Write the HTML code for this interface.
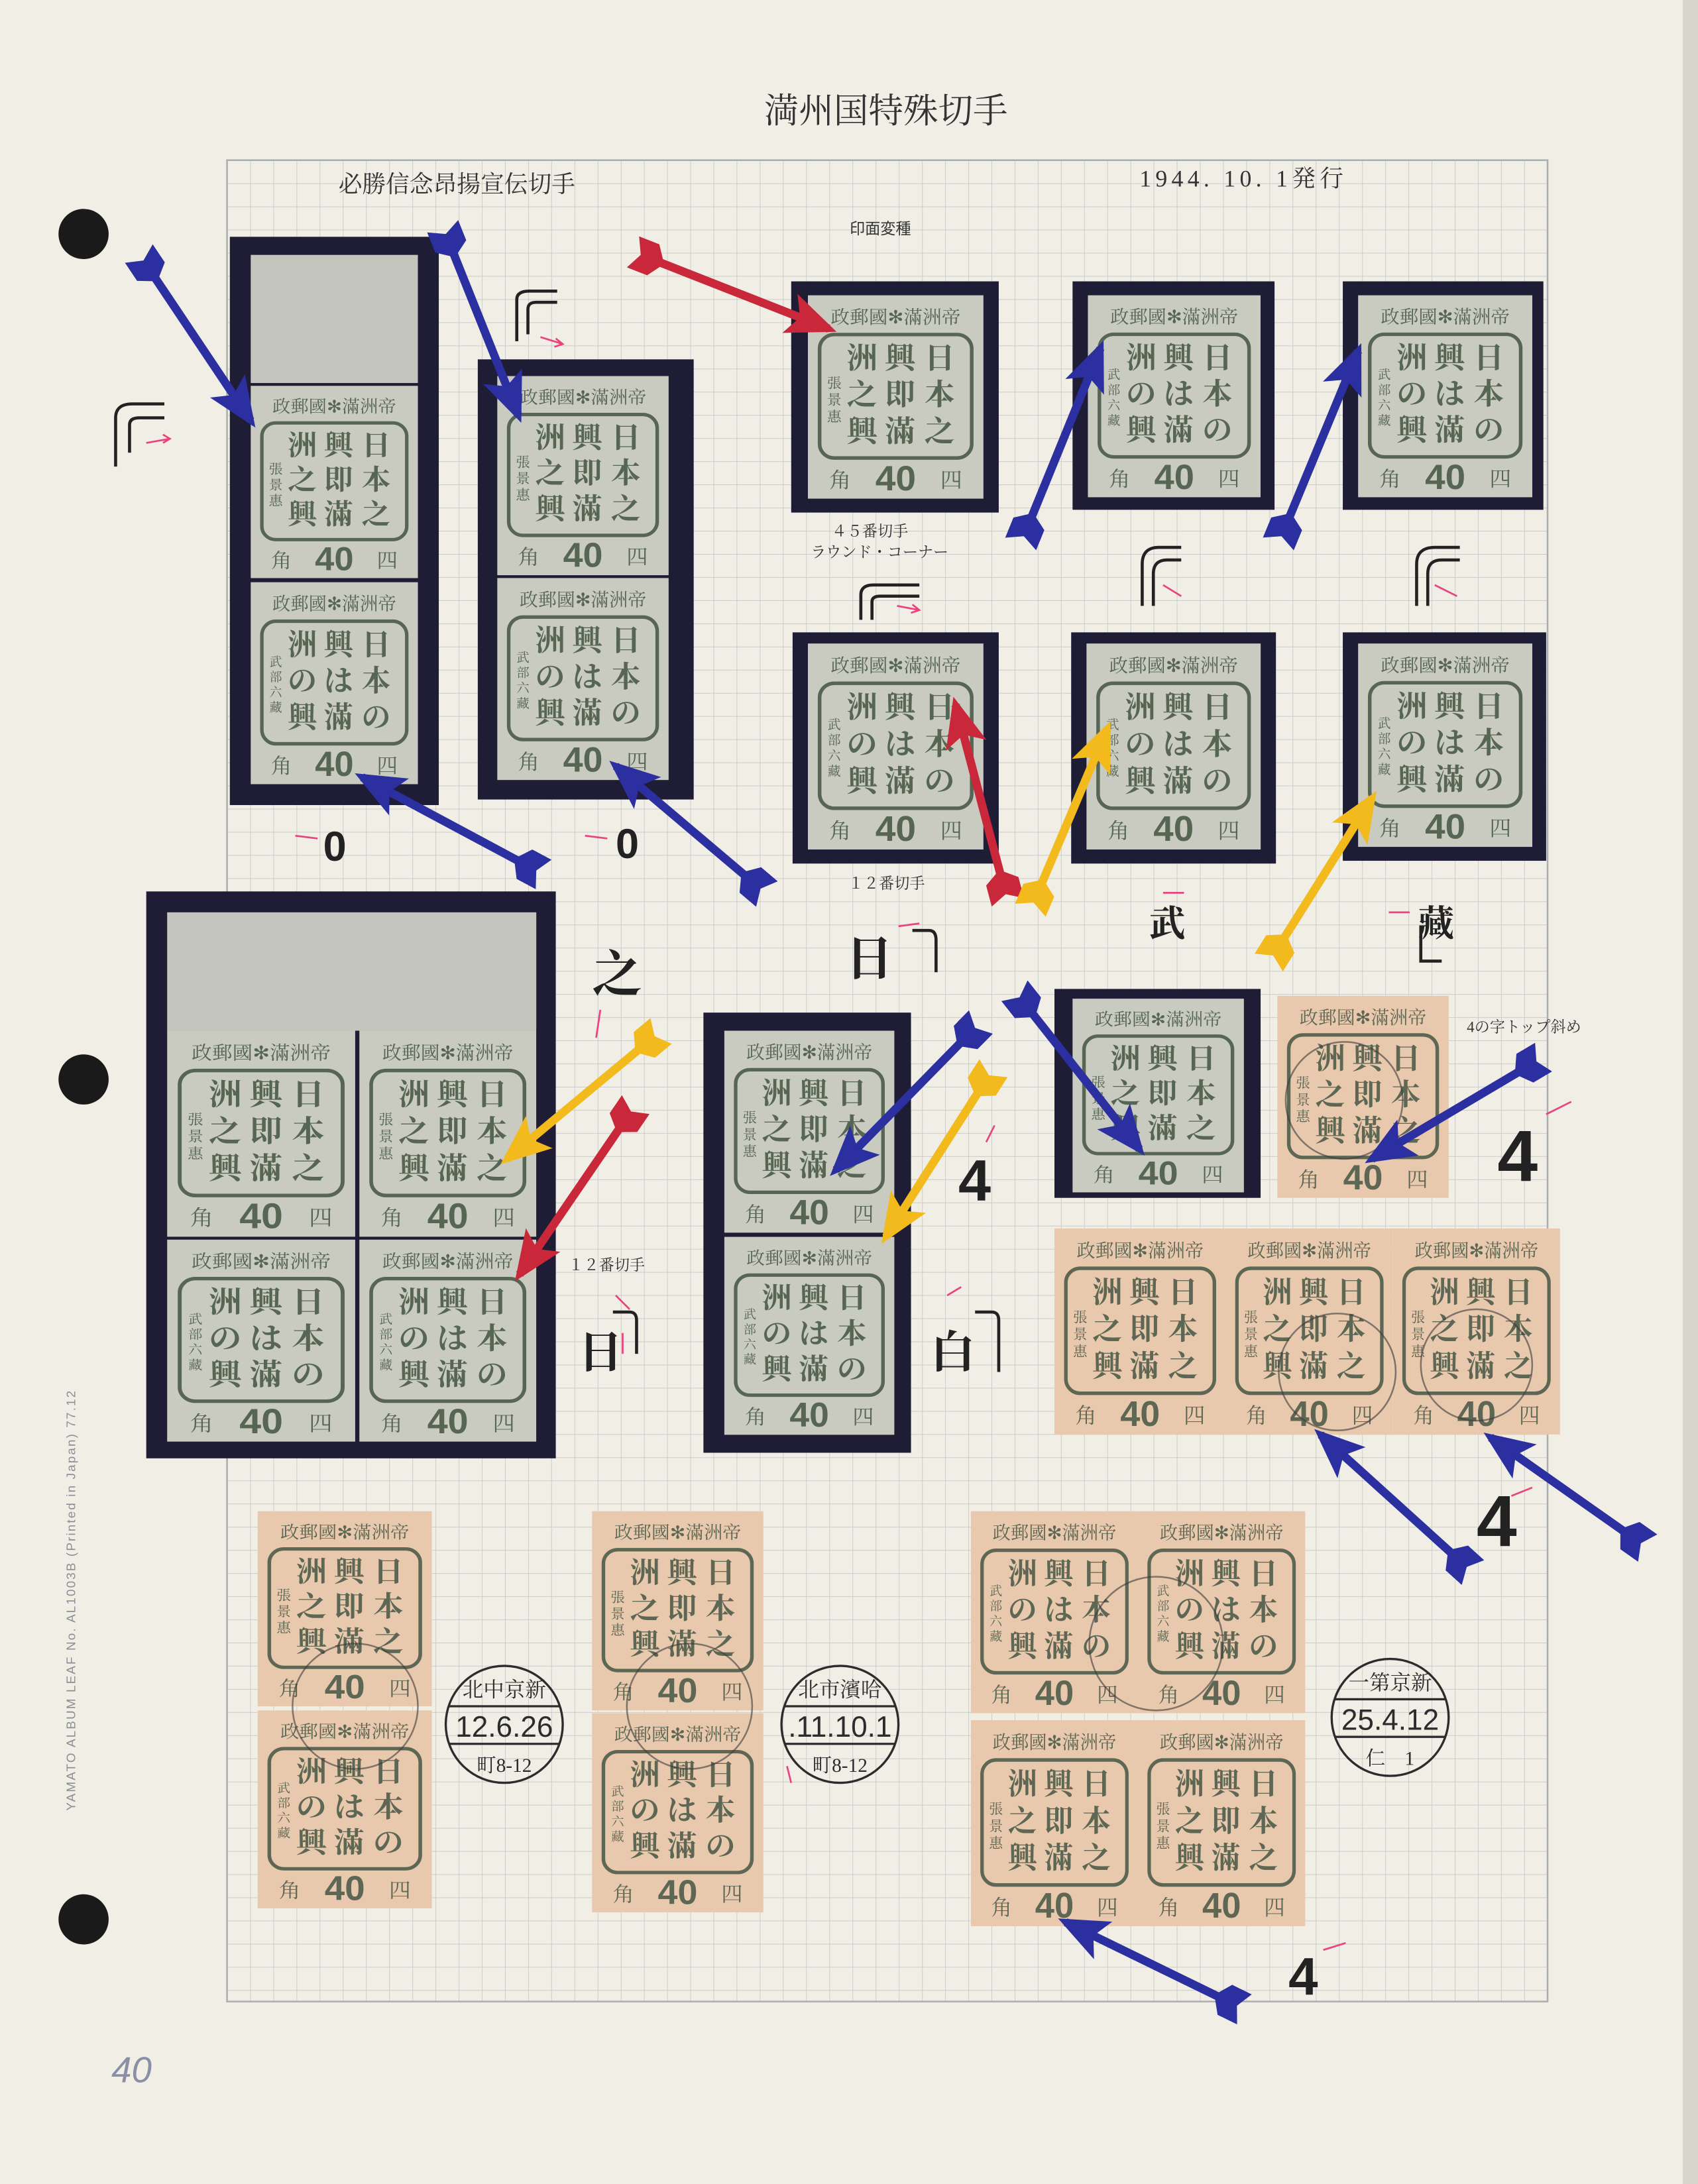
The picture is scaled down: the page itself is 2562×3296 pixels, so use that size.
<!DOCTYPE html>
<html><head><meta charset="utf-8"><style>
html,body{margin:0;padding:0;background:#f0eee5}
svg{display:block}
text{font-family:"Liberation Serif","Noto Serif CJK SC","Noto Sans CJK JP",serif}
.s{font-family:"Liberation Sans","Noto Sans CJK JP",sans-serif}
.t{font-size:13px;text-anchor:middle}
.b{font-size:21px;font-weight:bold;text-anchor:middle}
.m{font-size:10px;text-anchor:middle}
.n{font-size:9px;text-anchor:middle}
.v{font-size:15px;text-anchor:middle}
.f{font-size:25px;font-weight:bold;text-anchor:middle;font-family:"Liberation Sans",sans-serif}
.a{fill:none;stroke-width:6}
.pk{stroke:#e8457e;stroke-width:1.3;fill:none}
</style></head><body>
<svg xmlns="http://www.w3.org/2000/svg" width="2562" height="3296" viewBox="0 0 1219 1568" preserveAspectRatio="none">
<defs>
<pattern id="g" x="163" y="115" width="16.63" height="16.63" patternUnits="userSpaceOnUse">
<path d="M0,0 H16.63 M0,0 V16.63" stroke="#c5c8c8" stroke-width="0.8" fill="none"/>
</pattern>
<marker id="hb" viewBox="0 -2.5 6 5" refX="5" refY="0" markerWidth="6" markerHeight="5" orient="auto"><path d="M0,-2.5 L6,0 L0,2.5 L1.3,0Z" fill="#2b2fa0"/></marker>
<marker id="tb" viewBox="0 -2 4 4" refX="1" refY="0" markerWidth="4" markerHeight="4" orient="auto"><path d="M0,-2 L2.6,-2 L4,0 L2.6,2 L0,2 L1,0Z" fill="#2b2fa0"/></marker>
<marker id="hr" viewBox="0 -2.5 6 5" refX="5" refY="0" markerWidth="6" markerHeight="5" orient="auto"><path d="M0,-2.5 L6,0 L0,2.5 L1.3,0Z" fill="#c9283b"/></marker>
<marker id="tr" viewBox="0 -2 4 4" refX="1" refY="0" markerWidth="4" markerHeight="4" orient="auto"><path d="M0,-2 L2.6,-2 L4,0 L2.6,2 L0,2 L1,0Z" fill="#c9283b"/></marker>
<marker id="hy" viewBox="0 -2.5 6 5" refX="5" refY="0" markerWidth="6" markerHeight="5" orient="auto"><path d="M0,-2.5 L6,0 L0,2.5 L1.3,0Z" fill="#f2ba1c"/></marker>
<marker id="ty" viewBox="0 -2 4 4" refX="1" refY="0" markerWidth="4" markerHeight="4" orient="auto"><path d="M0,-2 L2.6,-2 L4,0 L2.6,2 L0,2 L1,0Z" fill="#f2ba1c"/></marker>
</defs>
<rect width="1219" height="1568" fill="#f0eee5"/>
<rect x="1208" y="0" width="11" height="1568" fill="#d8d6cc"/>
<circle cx="60" cy="168" r="18" fill="#1a1a1a"/><circle cx="60" cy="775" r="18" fill="#1a1a1a"/><circle cx="60" cy="1378" r="18" fill="#1a1a1a"/>
<rect x="163" y="115" width="948" height="1322" fill="url(#g)" stroke="#a9aeb0" stroke-width="1.2"/>

<text x="636" y="88" font-size="25" text-anchor="middle" fill="#333">満州国特殊切手</text>
<text x="243" y="138" font-size="17" fill="#333">必勝信念昂揚宣伝切手</text>
<text x="818" y="134" font-size="17" fill="#333" letter-spacing="3">1944. 10. 1発行</text>
<text x="610" y="168" font-size="11" fill="#333" class="s">印面変種</text>
<text x="597" y="385" font-size="11" fill="#333">４５番切手</text>
<text x="582" y="400" font-size="11" fill="#333">ラウンド・コーナー</text>
<text x="609" y="638" font-size="11" fill="#333">１２番切手</text>
<text x="408" y="912" font-size="11" fill="#333">１２番切手</text>
<text x="1053" y="741" font-size="11" fill="#333">4の字トップ斜め</text>
<text transform="translate(54,1300) rotate(-90)" font-size="9" fill="#8a8f94" class="s" letter-spacing="1">YAMATO ALBUM LEAF   No. AL1003B   (Printed in Japan)  77.12</text>
<text x="80" y="1495" font-size="26" fill="#8a8fa8" font-style="italic" class="s">40</text>

<g fill="#1e1d35">
<rect x="165" y="170" width="150" height="408"/>
<rect x="343" y="258" width="155" height="316"/>
<rect x="568" y="202" width="149" height="166"/>
<rect x="770" y="202" width="145" height="164"/>
<rect x="964" y="202" width="144" height="164"/>
<rect x="569" y="454" width="148" height="166"/>
<rect x="769" y="454" width="147" height="166"/>
<rect x="964" y="454" width="146" height="164"/>
<rect x="105" y="640" width="294" height="407"/>
<rect x="505" y="727" width="149" height="316"/>
<rect x="757" y="710" width="148" height="150"/>
</g>
<rect x="180" y="183" width="120" height="92" fill="#c4c6bd"/>
<rect x="120" y="655" width="265" height="85" fill="#c4c6bd"/>

<!-- green A -->
<g transform="translate(180,277) scale(1,0.952)"><rect width="120" height="145" fill="#c9cbc0"/><g fill="#566652"><text x="60" y="20" class="t">政郵國✻滿洲帝</text><rect x="8" y="28" width="104" height="88" rx="10" fill="none" stroke="#566652" stroke-width="2.5"/><text x="90" y="52" class="b">日</text><text x="90" y="78" class="b">本</text><text x="90" y="104" class="b">之</text><text x="63" y="52" class="b">興</text><text x="63" y="78" class="b">即</text><text x="63" y="104" class="b">滿</text><text x="37" y="52" class="b">洲</text><text x="37" y="78" class="b">之</text><text x="37" y="104" class="b">興</text><text x="18" y="66" class="m">張</text><text x="18" y="78" class="m">景</text><text x="18" y="90" class="m">惠</text><text x="22" y="137" class="v">角</text><text x="60" y="139" class="f">40</text><text x="98" y="137" class="v">四</text></g></g>
<g transform="translate(180,418)"><rect width="120" height="145" fill="#c9cbc0"/><g fill="#566652"><text x="60" y="20" class="t">政郵國✻滿洲帝</text><rect x="8" y="28" width="104" height="88" rx="10" fill="none" stroke="#566652" stroke-width="2.5"/><text x="90" y="52" class="b">日</text><text x="90" y="78" class="b">本</text><text x="90" y="104" class="b">の</text><text x="63" y="52" class="b">興</text><text x="63" y="78" class="b">は</text><text x="63" y="104" class="b">滿</text><text x="37" y="52" class="b">洲</text><text x="37" y="78" class="b">の</text><text x="37" y="104" class="b">興</text><text x="18" y="60" class="n">武</text><text x="18" y="71" class="n">部</text><text x="18" y="82" class="n">六</text><text x="18" y="93" class="n">藏</text><text x="22" y="137" class="v">角</text><text x="60" y="139" class="f">40</text><text x="98" y="137" class="v">四</text></g></g>
<g transform="translate(357,270) scale(1.025,0.986)"><rect width="120" height="145" fill="#c9cbc0"/><g fill="#566652"><text x="60" y="20" class="t">政郵國✻滿洲帝</text><rect x="8" y="28" width="104" height="88" rx="10" fill="none" stroke="#566652" stroke-width="2.5"/><text x="90" y="52" class="b">日</text><text x="90" y="78" class="b">本</text><text x="90" y="104" class="b">之</text><text x="63" y="52" class="b">興</text><text x="63" y="78" class="b">即</text><text x="63" y="104" class="b">滿</text><text x="37" y="52" class="b">洲</text><text x="37" y="78" class="b">之</text><text x="37" y="104" class="b">興</text><text x="18" y="66" class="m">張</text><text x="18" y="78" class="m">景</text><text x="18" y="90" class="m">惠</text><text x="22" y="137" class="v">角</text><text x="60" y="139" class="f">40</text><text x="98" y="137" class="v">四</text></g></g>
<g transform="translate(357,415) scale(1.025,1)"><rect width="120" height="145" fill="#c9cbc0"/><g fill="#566652"><text x="60" y="20" class="t">政郵國✻滿洲帝</text><rect x="8" y="28" width="104" height="88" rx="10" fill="none" stroke="#566652" stroke-width="2.5"/><text x="90" y="52" class="b">日</text><text x="90" y="78" class="b">本</text><text x="90" y="104" class="b">の</text><text x="63" y="52" class="b">興</text><text x="63" y="78" class="b">は</text><text x="63" y="104" class="b">滿</text><text x="37" y="52" class="b">洲</text><text x="37" y="78" class="b">の</text><text x="37" y="104" class="b">興</text><text x="18" y="60" class="n">武</text><text x="18" y="71" class="n">部</text><text x="18" y="82" class="n">六</text><text x="18" y="93" class="n">藏</text><text x="22" y="137" class="v">角</text><text x="60" y="139" class="f">40</text><text x="98" y="137" class="v">四</text></g></g>
<g transform="translate(580,212) scale(1.05,1.007)"><rect width="120" height="145" fill="#c9cbc0"/><g fill="#566652"><text x="60" y="20" class="t">政郵國✻滿洲帝</text><rect x="8" y="28" width="104" height="88" rx="10" fill="none" stroke="#566652" stroke-width="2.5"/><text x="90" y="52" class="b">日</text><text x="90" y="78" class="b">本</text><text x="90" y="104" class="b">之</text><text x="63" y="52" class="b">興</text><text x="63" y="78" class="b">即</text><text x="63" y="104" class="b">滿</text><text x="37" y="52" class="b">洲</text><text x="37" y="78" class="b">之</text><text x="37" y="104" class="b">興</text><text x="18" y="66" class="m">張</text><text x="18" y="78" class="m">景</text><text x="18" y="90" class="m">惠</text><text x="22" y="137" class="v">角</text><text x="60" y="139" class="f">40</text><text x="98" y="137" class="v">四</text></g></g>
<g transform="translate(781,212) scale(1.033,1)"><rect width="120" height="145" fill="#c9cbc0"/><g fill="#566652"><text x="60" y="20" class="t">政郵國✻滿洲帝</text><rect x="8" y="28" width="104" height="88" rx="10" fill="none" stroke="#566652" stroke-width="2.5"/><text x="90" y="52" class="b">日</text><text x="90" y="78" class="b">本</text><text x="90" y="104" class="b">の</text><text x="63" y="52" class="b">興</text><text x="63" y="78" class="b">は</text><text x="63" y="104" class="b">滿</text><text x="37" y="52" class="b">洲</text><text x="37" y="78" class="b">の</text><text x="37" y="104" class="b">興</text><text x="18" y="60" class="n">武</text><text x="18" y="71" class="n">部</text><text x="18" y="82" class="n">六</text><text x="18" y="93" class="n">藏</text><text x="22" y="137" class="v">角</text><text x="60" y="139" class="f">40</text><text x="98" y="137" class="v">四</text></g></g>
<g transform="translate(975,212) scale(1.042,1)"><rect width="120" height="145" fill="#c9cbc0"/><g fill="#566652"><text x="60" y="20" class="t">政郵國✻滿洲帝</text><rect x="8" y="28" width="104" height="88" rx="10" fill="none" stroke="#566652" stroke-width="2.5"/><text x="90" y="52" class="b">日</text><text x="90" y="78" class="b">本</text><text x="90" y="104" class="b">の</text><text x="63" y="52" class="b">興</text><text x="63" y="78" class="b">は</text><text x="63" y="104" class="b">滿</text><text x="37" y="52" class="b">洲</text><text x="37" y="78" class="b">の</text><text x="37" y="104" class="b">興</text><text x="18" y="60" class="n">武</text><text x="18" y="71" class="n">部</text><text x="18" y="82" class="n">六</text><text x="18" y="93" class="n">藏</text><text x="22" y="137" class="v">角</text><text x="60" y="139" class="f">40</text><text x="98" y="137" class="v">四</text></g></g>
<g transform="translate(580,462) scale(1.05,1.02)"><rect width="120" height="145" fill="#c9cbc0"/><g fill="#566652"><text x="60" y="20" class="t">政郵國✻滿洲帝</text><rect x="8" y="28" width="104" height="88" rx="10" fill="none" stroke="#566652" stroke-width="2.5"/><text x="90" y="52" class="b">日</text><text x="90" y="78" class="b">本</text><text x="90" y="104" class="b">の</text><text x="63" y="52" class="b">興</text><text x="63" y="78" class="b">は</text><text x="63" y="104" class="b">滿</text><text x="37" y="52" class="b">洲</text><text x="37" y="78" class="b">の</text><text x="37" y="104" class="b">興</text><text x="18" y="60" class="n">武</text><text x="18" y="71" class="n">部</text><text x="18" y="82" class="n">六</text><text x="18" y="93" class="n">藏</text><text x="22" y="137" class="v">角</text><text x="60" y="139" class="f">40</text><text x="98" y="137" class="v">四</text></g></g>
<g transform="translate(780,462) scale(1.042,1.02)"><rect width="120" height="145" fill="#c9cbc0"/><g fill="#566652"><text x="60" y="20" class="t">政郵國✻滿洲帝</text><rect x="8" y="28" width="104" height="88" rx="10" fill="none" stroke="#566652" stroke-width="2.5"/><text x="90" y="52" class="b">日</text><text x="90" y="78" class="b">本</text><text x="90" y="104" class="b">の</text><text x="63" y="52" class="b">興</text><text x="63" y="78" class="b">は</text><text x="63" y="104" class="b">滿</text><text x="37" y="52" class="b">洲</text><text x="37" y="78" class="b">の</text><text x="37" y="104" class="b">興</text><text x="18" y="60" class="n">武</text><text x="18" y="71" class="n">部</text><text x="18" y="82" class="n">六</text><text x="18" y="93" class="n">藏</text><text x="22" y="137" class="v">角</text><text x="60" y="139" class="f">40</text><text x="98" y="137" class="v">四</text></g></g>
<g transform="translate(975,462) scale(1.042,1.007)"><rect width="120" height="145" fill="#c9cbc0"/><g fill="#566652"><text x="60" y="20" class="t">政郵國✻滿洲帝</text><rect x="8" y="28" width="104" height="88" rx="10" fill="none" stroke="#566652" stroke-width="2.5"/><text x="90" y="52" class="b">日</text><text x="90" y="78" class="b">本</text><text x="90" y="104" class="b">の</text><text x="63" y="52" class="b">興</text><text x="63" y="78" class="b">は</text><text x="63" y="104" class="b">滿</text><text x="37" y="52" class="b">洲</text><text x="37" y="78" class="b">の</text><text x="37" y="104" class="b">興</text><text x="18" y="60" class="n">武</text><text x="18" y="71" class="n">部</text><text x="18" y="82" class="n">六</text><text x="18" y="93" class="n">藏</text><text x="22" y="137" class="v">角</text><text x="60" y="139" class="f">40</text><text x="98" y="137" class="v">四</text></g></g>
<g transform="translate(120,740) scale(1.125,1.02)"><rect width="120" height="145" fill="#c9cbc0"/><g fill="#566652"><text x="60" y="20" class="t">政郵國✻滿洲帝</text><rect x="8" y="28" width="104" height="88" rx="10" fill="none" stroke="#566652" stroke-width="2.5"/><text x="90" y="52" class="b">日</text><text x="90" y="78" class="b">本</text><text x="90" y="104" class="b">之</text><text x="63" y="52" class="b">興</text><text x="63" y="78" class="b">即</text><text x="63" y="104" class="b">滿</text><text x="37" y="52" class="b">洲</text><text x="37" y="78" class="b">之</text><text x="37" y="104" class="b">興</text><text x="18" y="66" class="m">張</text><text x="18" y="78" class="m">景</text><text x="18" y="90" class="m">惠</text><text x="22" y="137" class="v">角</text><text x="60" y="139" class="f">40</text><text x="98" y="137" class="v">四</text></g></g>
<g transform="translate(258,740) scale(1.058,1.02)"><rect width="120" height="145" fill="#c9cbc0"/><g fill="#566652"><text x="60" y="20" class="t">政郵國✻滿洲帝</text><rect x="8" y="28" width="104" height="88" rx="10" fill="none" stroke="#566652" stroke-width="2.5"/><text x="90" y="52" class="b">日</text><text x="90" y="78" class="b">本</text><text x="90" y="104" class="b">之</text><text x="63" y="52" class="b">興</text><text x="63" y="78" class="b">即</text><text x="63" y="104" class="b">滿</text><text x="37" y="52" class="b">洲</text><text x="37" y="78" class="b">之</text><text x="37" y="104" class="b">興</text><text x="18" y="66" class="m">張</text><text x="18" y="78" class="m">景</text><text x="18" y="90" class="m">惠</text><text x="22" y="137" class="v">角</text><text x="60" y="139" class="f">40</text><text x="98" y="137" class="v">四</text></g></g>
<g transform="translate(120,890) scale(1.125,1)"><rect width="120" height="145" fill="#c9cbc0"/><g fill="#566652"><text x="60" y="20" class="t">政郵國✻滿洲帝</text><rect x="8" y="28" width="104" height="88" rx="10" fill="none" stroke="#566652" stroke-width="2.5"/><text x="90" y="52" class="b">日</text><text x="90" y="78" class="b">本</text><text x="90" y="104" class="b">の</text><text x="63" y="52" class="b">興</text><text x="63" y="78" class="b">は</text><text x="63" y="104" class="b">滿</text><text x="37" y="52" class="b">洲</text><text x="37" y="78" class="b">の</text><text x="37" y="104" class="b">興</text><text x="18" y="60" class="n">武</text><text x="18" y="71" class="n">部</text><text x="18" y="82" class="n">六</text><text x="18" y="93" class="n">藏</text><text x="22" y="137" class="v">角</text><text x="60" y="139" class="f">40</text><text x="98" y="137" class="v">四</text></g></g>
<g transform="translate(258,890) scale(1.058,1)"><rect width="120" height="145" fill="#c9cbc0"/><g fill="#566652"><text x="60" y="20" class="t">政郵國✻滿洲帝</text><rect x="8" y="28" width="104" height="88" rx="10" fill="none" stroke="#566652" stroke-width="2.5"/><text x="90" y="52" class="b">日</text><text x="90" y="78" class="b">本</text><text x="90" y="104" class="b">の</text><text x="63" y="52" class="b">興</text><text x="63" y="78" class="b">は</text><text x="63" y="104" class="b">滿</text><text x="37" y="52" class="b">洲</text><text x="37" y="78" class="b">の</text><text x="37" y="104" class="b">興</text><text x="18" y="60" class="n">武</text><text x="18" y="71" class="n">部</text><text x="18" y="82" class="n">六</text><text x="18" y="93" class="n">藏</text><text x="22" y="137" class="v">角</text><text x="60" y="139" class="f">40</text><text x="98" y="137" class="v">四</text></g></g>
<g transform="translate(520,740) scale(1.017,1)"><rect width="120" height="145" fill="#c9cbc0"/><g fill="#566652"><text x="60" y="20" class="t">政郵國✻滿洲帝</text><rect x="8" y="28" width="104" height="88" rx="10" fill="none" stroke="#566652" stroke-width="2.5"/><text x="90" y="52" class="b">日</text><text x="90" y="78" class="b">本</text><text x="90" y="104" class="b">之</text><text x="63" y="52" class="b">興</text><text x="63" y="78" class="b">即</text><text x="63" y="104" class="b">滿</text><text x="37" y="52" class="b">洲</text><text x="37" y="78" class="b">之</text><text x="37" y="104" class="b">興</text><text x="18" y="66" class="m">張</text><text x="18" y="78" class="m">景</text><text x="18" y="90" class="m">惠</text><text x="22" y="137" class="v">角</text><text x="60" y="139" class="f">40</text><text x="98" y="137" class="v">四</text></g></g>
<g transform="translate(520,888) scale(1.017,0.98)"><rect width="120" height="145" fill="#c9cbc0"/><g fill="#566652"><text x="60" y="20" class="t">政郵國✻滿洲帝</text><rect x="8" y="28" width="104" height="88" rx="10" fill="none" stroke="#566652" stroke-width="2.5"/><text x="90" y="52" class="b">日</text><text x="90" y="78" class="b">本</text><text x="90" y="104" class="b">の</text><text x="63" y="52" class="b">興</text><text x="63" y="78" class="b">は</text><text x="63" y="104" class="b">滿</text><text x="37" y="52" class="b">洲</text><text x="37" y="78" class="b">の</text><text x="37" y="104" class="b">興</text><text x="18" y="60" class="n">武</text><text x="18" y="71" class="n">部</text><text x="18" y="82" class="n">六</text><text x="18" y="93" class="n">藏</text><text x="22" y="137" class="v">角</text><text x="60" y="139" class="f">40</text><text x="98" y="137" class="v">四</text></g></g>
<g transform="translate(770,717) scale(1.025,0.959)"><rect width="120" height="145" fill="#c9cbc0"/><g fill="#566652"><text x="60" y="20" class="t">政郵國✻滿洲帝</text><rect x="8" y="28" width="104" height="88" rx="10" fill="none" stroke="#566652" stroke-width="2.5"/><text x="90" y="52" class="b">日</text><text x="90" y="78" class="b">本</text><text x="90" y="104" class="b">之</text><text x="63" y="52" class="b">興</text><text x="63" y="78" class="b">即</text><text x="63" y="104" class="b">滿</text><text x="37" y="52" class="b">洲</text><text x="37" y="78" class="b">之</text><text x="37" y="104" class="b">興</text><text x="18" y="66" class="m">張</text><text x="18" y="78" class="m">景</text><text x="18" y="90" class="m">惠</text><text x="22" y="137" class="v">角</text><text x="60" y="139" class="f">40</text><text x="98" y="137" class="v">四</text></g></g>

<!-- pink stamps -->
<g transform="translate(917,715) scale(1.025,1)"><rect width="120" height="145" fill="#e9c9ae"/><g fill="#5d6753"><text x="60" y="20" class="t">政郵國✻滿洲帝</text><rect x="8" y="28" width="104" height="88" rx="10" fill="none" stroke="#5d6753" stroke-width="2.5"/><text x="90" y="52" class="b">日</text><text x="90" y="78" class="b">本</text><text x="90" y="104" class="b">之</text><text x="63" y="52" class="b">興</text><text x="63" y="78" class="b">即</text><text x="63" y="104" class="b">滿</text><text x="37" y="52" class="b">洲</text><text x="37" y="78" class="b">之</text><text x="37" y="104" class="b">興</text><text x="18" y="66" class="m">張</text><text x="18" y="78" class="m">景</text><text x="18" y="90" class="m">惠</text><text x="22" y="137" class="v">角</text><text x="60" y="139" class="f">40</text><text x="98" y="137" class="v">四</text></g></g>
<g transform="translate(757,882) scale(1.025,1.02)"><rect width="120" height="145" fill="#e9c9ae"/><g fill="#5d6753"><text x="60" y="20" class="t">政郵國✻滿洲帝</text><rect x="8" y="28" width="104" height="88" rx="10" fill="none" stroke="#5d6753" stroke-width="2.5"/><text x="90" y="52" class="b">日</text><text x="90" y="78" class="b">本</text><text x="90" y="104" class="b">之</text><text x="63" y="52" class="b">興</text><text x="63" y="78" class="b">即</text><text x="63" y="104" class="b">滿</text><text x="37" y="52" class="b">洲</text><text x="37" y="78" class="b">之</text><text x="37" y="104" class="b">興</text><text x="18" y="66" class="m">張</text><text x="18" y="78" class="m">景</text><text x="18" y="90" class="m">惠</text><text x="22" y="137" class="v">角</text><text x="60" y="139" class="f">40</text><text x="98" y="137" class="v">四</text></g></g>
<g transform="translate(880,882) scale(1,1.02)"><rect width="120" height="145" fill="#e9c9ae"/><g fill="#5d6753"><text x="60" y="20" class="t">政郵國✻滿洲帝</text><rect x="8" y="28" width="104" height="88" rx="10" fill="none" stroke="#5d6753" stroke-width="2.5"/><text x="90" y="52" class="b">日</text><text x="90" y="78" class="b">本</text><text x="90" y="104" class="b">之</text><text x="63" y="52" class="b">興</text><text x="63" y="78" class="b">即</text><text x="63" y="104" class="b">滿</text><text x="37" y="52" class="b">洲</text><text x="37" y="78" class="b">之</text><text x="37" y="104" class="b">興</text><text x="18" y="66" class="m">張</text><text x="18" y="78" class="m">景</text><text x="18" y="90" class="m">惠</text><text x="22" y="137" class="v">角</text><text x="60" y="139" class="f">40</text><text x="98" y="137" class="v">四</text></g></g>
<g transform="translate(1000,882) scale(1,1.02)"><rect width="120" height="145" fill="#e9c9ae"/><g fill="#5d6753"><text x="60" y="20" class="t">政郵國✻滿洲帝</text><rect x="8" y="28" width="104" height="88" rx="10" fill="none" stroke="#5d6753" stroke-width="2.5"/><text x="90" y="52" class="b">日</text><text x="90" y="78" class="b">本</text><text x="90" y="104" class="b">之</text><text x="63" y="52" class="b">興</text><text x="63" y="78" class="b">即</text><text x="63" y="104" class="b">滿</text><text x="37" y="52" class="b">洲</text><text x="37" y="78" class="b">之</text><text x="37" y="104" class="b">興</text><text x="18" y="66" class="m">張</text><text x="18" y="78" class="m">景</text><text x="18" y="90" class="m">惠</text><text x="22" y="137" class="v">角</text><text x="60" y="139" class="f">40</text><text x="98" y="137" class="v">四</text></g></g>
<g transform="translate(185,1085) scale(1.042,0.966)"><rect width="120" height="145" fill="#e9c9ae"/><g fill="#5d6753"><text x="60" y="20" class="t">政郵國✻滿洲帝</text><rect x="8" y="28" width="104" height="88" rx="10" fill="none" stroke="#5d6753" stroke-width="2.5"/><text x="90" y="52" class="b">日</text><text x="90" y="78" class="b">本</text><text x="90" y="104" class="b">之</text><text x="63" y="52" class="b">興</text><text x="63" y="78" class="b">即</text><text x="63" y="104" class="b">滿</text><text x="37" y="52" class="b">洲</text><text x="37" y="78" class="b">之</text><text x="37" y="104" class="b">興</text><text x="18" y="66" class="m">張</text><text x="18" y="78" class="m">景</text><text x="18" y="90" class="m">惠</text><text x="22" y="137" class="v">角</text><text x="60" y="139" class="f">40</text><text x="98" y="137" class="v">四</text></g></g>
<g transform="translate(185,1228) scale(1.042,0.98)"><rect width="120" height="145" fill="#e9c9ae"/><g fill="#5d6753"><text x="60" y="20" class="t">政郵國✻滿洲帝</text><rect x="8" y="28" width="104" height="88" rx="10" fill="none" stroke="#5d6753" stroke-width="2.5"/><text x="90" y="52" class="b">日</text><text x="90" y="78" class="b">本</text><text x="90" y="104" class="b">の</text><text x="63" y="52" class="b">興</text><text x="63" y="78" class="b">は</text><text x="63" y="104" class="b">滿</text><text x="37" y="52" class="b">洲</text><text x="37" y="78" class="b">の</text><text x="37" y="104" class="b">興</text><text x="18" y="60" class="n">武</text><text x="18" y="71" class="n">部</text><text x="18" y="82" class="n">六</text><text x="18" y="93" class="n">藏</text><text x="22" y="137" class="v">角</text><text x="60" y="139" class="f">40</text><text x="98" y="137" class="v">四</text></g></g>
<g transform="translate(425,1085) scale(1.025,0.986)"><rect width="120" height="145" fill="#e9c9ae"/><g fill="#5d6753"><text x="60" y="20" class="t">政郵國✻滿洲帝</text><rect x="8" y="28" width="104" height="88" rx="10" fill="none" stroke="#5d6753" stroke-width="2.5"/><text x="90" y="52" class="b">日</text><text x="90" y="78" class="b">本</text><text x="90" y="104" class="b">之</text><text x="63" y="52" class="b">興</text><text x="63" y="78" class="b">即</text><text x="63" y="104" class="b">滿</text><text x="37" y="52" class="b">洲</text><text x="37" y="78" class="b">之</text><text x="37" y="104" class="b">興</text><text x="18" y="66" class="m">張</text><text x="18" y="78" class="m">景</text><text x="18" y="90" class="m">惠</text><text x="22" y="137" class="v">角</text><text x="60" y="139" class="f">40</text><text x="98" y="137" class="v">四</text></g></g>
<g transform="translate(425,1230) scale(1.025,0.986)"><rect width="120" height="145" fill="#e9c9ae"/><g fill="#5d6753"><text x="60" y="20" class="t">政郵國✻滿洲帝</text><rect x="8" y="28" width="104" height="88" rx="10" fill="none" stroke="#5d6753" stroke-width="2.5"/><text x="90" y="52" class="b">日</text><text x="90" y="78" class="b">本</text><text x="90" y="104" class="b">の</text><text x="63" y="52" class="b">興</text><text x="63" y="78" class="b">は</text><text x="63" y="104" class="b">滿</text><text x="37" y="52" class="b">洲</text><text x="37" y="78" class="b">の</text><text x="37" y="104" class="b">興</text><text x="18" y="60" class="n">武</text><text x="18" y="71" class="n">部</text><text x="18" y="82" class="n">六</text><text x="18" y="93" class="n">藏</text><text x="22" y="137" class="v">角</text><text x="60" y="139" class="f">40</text><text x="98" y="137" class="v">四</text></g></g>
<g transform="translate(697,1085)"><rect width="120" height="145" fill="#e9c9ae"/><g fill="#5d6753"><text x="60" y="20" class="t">政郵國✻滿洲帝</text><rect x="8" y="28" width="104" height="88" rx="10" fill="none" stroke="#5d6753" stroke-width="2.5"/><text x="90" y="52" class="b">日</text><text x="90" y="78" class="b">本</text><text x="90" y="104" class="b">の</text><text x="63" y="52" class="b">興</text><text x="63" y="78" class="b">は</text><text x="63" y="104" class="b">滿</text><text x="37" y="52" class="b">洲</text><text x="37" y="78" class="b">の</text><text x="37" y="104" class="b">興</text><text x="18" y="60" class="n">武</text><text x="18" y="71" class="n">部</text><text x="18" y="82" class="n">六</text><text x="18" y="93" class="n">藏</text><text x="22" y="137" class="v">角</text><text x="60" y="139" class="f">40</text><text x="98" y="137" class="v">四</text></g></g>
<g transform="translate(817,1085)"><rect width="120" height="145" fill="#e9c9ae"/><g fill="#5d6753"><text x="60" y="20" class="t">政郵國✻滿洲帝</text><rect x="8" y="28" width="104" height="88" rx="10" fill="none" stroke="#5d6753" stroke-width="2.5"/><text x="90" y="52" class="b">日</text><text x="90" y="78" class="b">本</text><text x="90" y="104" class="b">の</text><text x="63" y="52" class="b">興</text><text x="63" y="78" class="b">は</text><text x="63" y="104" class="b">滿</text><text x="37" y="52" class="b">洲</text><text x="37" y="78" class="b">の</text><text x="37" y="104" class="b">興</text><text x="18" y="60" class="n">武</text><text x="18" y="71" class="n">部</text><text x="18" y="82" class="n">六</text><text x="18" y="93" class="n">藏</text><text x="22" y="137" class="v">角</text><text x="60" y="139" class="f">40</text><text x="98" y="137" class="v">四</text></g></g>
<g transform="translate(697,1235) scale(1,1.02)"><rect width="120" height="145" fill="#e9c9ae"/><g fill="#5d6753"><text x="60" y="20" class="t">政郵國✻滿洲帝</text><rect x="8" y="28" width="104" height="88" rx="10" fill="none" stroke="#5d6753" stroke-width="2.5"/><text x="90" y="52" class="b">日</text><text x="90" y="78" class="b">本</text><text x="90" y="104" class="b">之</text><text x="63" y="52" class="b">興</text><text x="63" y="78" class="b">即</text><text x="63" y="104" class="b">滿</text><text x="37" y="52" class="b">洲</text><text x="37" y="78" class="b">之</text><text x="37" y="104" class="b">興</text><text x="18" y="66" class="m">張</text><text x="18" y="78" class="m">景</text><text x="18" y="90" class="m">惠</text><text x="22" y="137" class="v">角</text><text x="60" y="139" class="f">40</text><text x="98" y="137" class="v">四</text></g></g>
<g transform="translate(817,1235) scale(1,1.02)"><rect width="120" height="145" fill="#e9c9ae"/><g fill="#5d6753"><text x="60" y="20" class="t">政郵國✻滿洲帝</text><rect x="8" y="28" width="104" height="88" rx="10" fill="none" stroke="#5d6753" stroke-width="2.5"/><text x="90" y="52" class="b">日</text><text x="90" y="78" class="b">本</text><text x="90" y="104" class="b">之</text><text x="63" y="52" class="b">興</text><text x="63" y="78" class="b">即</text><text x="63" y="104" class="b">滿</text><text x="37" y="52" class="b">洲</text><text x="37" y="78" class="b">之</text><text x="37" y="104" class="b">興</text><text x="18" y="66" class="m">張</text><text x="18" y="78" class="m">景</text><text x="18" y="90" class="m">惠</text><text x="22" y="137" class="v">角</text><text x="60" y="139" class="f">40</text><text x="98" y="137" class="v">四</text></g></g>

<!-- cancellations on used stamps -->
<g fill="none" stroke="#3a3a3a" stroke-width="1.2" opacity="0.6">
<circle cx="965" cy="790" r="42"/><circle cx="960" cy="985" r="42"/><circle cx="1060" cy="980" r="40"/>
<circle cx="255" cy="1225" r="45"/><circle cx="495" cy="1225" r="45"/><circle cx="830" cy="1180" r="48"/>
</g>

<!-- postmarks -->
<g fill="none" stroke="#2c2c2c" stroke-width="1.6">
<circle cx="362" cy="1238" r="42"/><line x1="322" y1="1225" x2="402" y2="1225"/><line x1="322" y1="1252" x2="402" y2="1252"/>
<circle cx="603" cy="1238" r="42"/><line x1="563" y1="1225" x2="643" y2="1225"/><line x1="563" y1="1252" x2="643" y2="1252"/>
<circle cx="998" cy="1233" r="42"/><line x1="958" y1="1220" x2="1038" y2="1220"/><line x1="958" y1="1247" x2="1038" y2="1247"/>
</g>
<g fill="#2c2c2c" text-anchor="middle">
<text x="362" y="1218" font-size="15">北中京新</text><text x="362" y="1247" font-size="21" class="s">12.6.26</text><text x="362" y="1272" font-size="14">町8-12</text>
<text x="603" y="1218" font-size="15">北市濱哈</text><text x="603" y="1247" font-size="21" class="s">.11.10.1</text><text x="603" y="1272" font-size="14">町8-12</text>
<text x="998" y="1213" font-size="15">一第京新</text><text x="998" y="1242" font-size="21" class="s">25.4.12</text><text x="998" y="1267" font-size="14">仁　1</text>
</g>

<!-- annotations -->
<g fill="none" stroke="#222" stroke-width="2.2">
<path d="M83,335 V300 Q83,290 95,290 H118"/><path d="M93,325 V305 Q93,300 100,300 H118"/>
<path d="M371,245 V215 Q371,209 380,209 H400"/><path d="M379,240 V222 Q379,217 385,217 H400"/>
<path d="M618,445 V427 Q618,420 627,420 H660"/><path d="M626,445 V432 Q626,428 632,428 H660"/>
<path d="M820,435 V405 Q820,393 832,393 H848"/><path d="M828,435 V412 Q828,402 838,402 H848"/>
<path d="M1017,435 V405 Q1017,393 1030,393 H1048"/><path d="M1025,435 V412 Q1025,402 1035,402 H1048"/>
<path d="M655,668 H667 Q672,668 672,675 V698"/>
<path d="M440,942 H452 Q457,942 457,948 V972"/>
<path d="M700,942 H712 Q717,942 717,948 V985"/>
<path d="M1020,665 V690 H1035"/>
</g>
<g fill="#222" font-weight="bold">
<text x="232" y="618" font-size="30" class="s">0</text>
<text x="442" y="616" font-size="30" class="s">0</text>
<text x="607" y="700" font-size="34">日</text>
<text x="415" y="982" font-size="32">日</text>
<text x="668" y="982" font-size="32">白</text>
<text x="688" y="862" font-size="42" class="s">4</text>
<text x="1075" y="848" font-size="52" class="s">4</text>
<text x="1060" y="1110" font-size="52" class="s">4</text>
<text x="925" y="1432" font-size="38" class="s">4</text>
<text x="425" y="712" font-size="36">之</text>
<text x="825" y="672" font-size="26">武</text>
<text x="1018" y="672" font-size="26">藏</text>
</g>
<!-- pink small marks -->
<g class="pk">
<path d="M105,318 L122,315 M117,312 L122,315 L117,318"/>
<path d="M388,242 L404,247 M399,243 L404,247 L398,249"/>
<path d="M644,435 L660,438 M655,434 L660,438 L654,440"/>
<path d="M835,420 L848,428"/><path d="M1030,420 L1046,428"/>
<path d="M212,600 L228,602"/><path d="M420,600 L436,602"/>
<path d="M645,665 L660,663"/><path d="M835,641 L850,641"/><path d="M997,655 L1012,655"/>
<path d="M428,745 L431,725"/><path d="M447,972 L447,957"/><path d="M442,930 L452,940"/>
<path d="M708,820 L714,808"/><path d="M680,930 L690,924"/><path d="M1110,800 L1128,791"/>
<path d="M1085,1074 L1100,1068"/><path d="M950,1400 L966,1395"/><path d="M565,1268 L568,1280"/>
</g>

<!-- arrows -->
<g class="a">
<line x1="103" y1="187" x2="180" y2="302" stroke="#2b2fa0" marker-start="url(#tb)" marker-end="url(#hb)"/>
<line x1="320" y1="168" x2="372" y2="298" stroke="#2b2fa0" marker-start="url(#tb)" marker-end="url(#hb)"/>
<line x1="385" y1="625" x2="260" y2="558" stroke="#2b2fa0" marker-start="url(#tb)" marker-end="url(#hb)"/>
<line x1="546" y1="638" x2="442" y2="550" stroke="#2b2fa0" marker-start="url(#tb)" marker-end="url(#hb)"/>
<line x1="735" y1="385" x2="790" y2="250" stroke="#2b2fa0" marker-start="url(#tb)" marker-end="url(#hb)"/>
<line x1="920" y1="385" x2="975" y2="252" stroke="#2b2fa0" marker-start="url(#tb)" marker-end="url(#hb)"/>
<line x1="732" y1="716" x2="818" y2="825" stroke="#2b2fa0" marker-start="url(#tb)" marker-end="url(#hb)"/>
<line x1="700" y1="738" x2="600" y2="840" stroke="#2b2fa0" marker-start="url(#tb)" marker-end="url(#hb)"/>
<line x1="1103" y1="762" x2="985" y2="832" stroke="#2b2fa0" marker-start="url(#tb)" marker-end="url(#hb)"/>
<line x1="1053" y1="1125" x2="948" y2="1030" stroke="#2b2fa0" marker-start="url(#tb)" marker-end="url(#hb)"/>
<line x1="1178" y1="1108" x2="1070" y2="1032" stroke="#2b2fa0" marker-start="url(#tb)" marker-end="url(#hb)"/>
<line x1="888" y1="1440" x2="765" y2="1380" stroke="#2b2fa0" marker-start="url(#tb)" marker-end="url(#hb)"/>
<line x1="460" y1="183" x2="595" y2="236" stroke="#c9283b" marker-start="url(#tr)" marker-end="url(#hr)"/>
<line x1="722" y1="642" x2="686" y2="506" stroke="#c9283b" marker-start="url(#tr)" marker-end="url(#hr)"/>
<line x1="453" y1="798" x2="373" y2="915" stroke="#c9283b" marker-start="url(#tr)" marker-end="url(#hr)"/>
<line x1="742" y1="648" x2="795" y2="523" stroke="#f2ba1c" marker-start="url(#ty)" marker-end="url(#hy)"/>
<line x1="914" y1="686" x2="985" y2="573" stroke="#f2ba1c" marker-start="url(#ty)" marker-end="url(#hy)"/>
<line x1="470" y1="744" x2="364" y2="832" stroke="#f2ba1c" marker-start="url(#ty)" marker-end="url(#hy)"/>
<line x1="710" y1="772" x2="636" y2="888" stroke="#f2ba1c" marker-start="url(#ty)" marker-end="url(#hy)"/>
</g>
</svg>
</body></html>
